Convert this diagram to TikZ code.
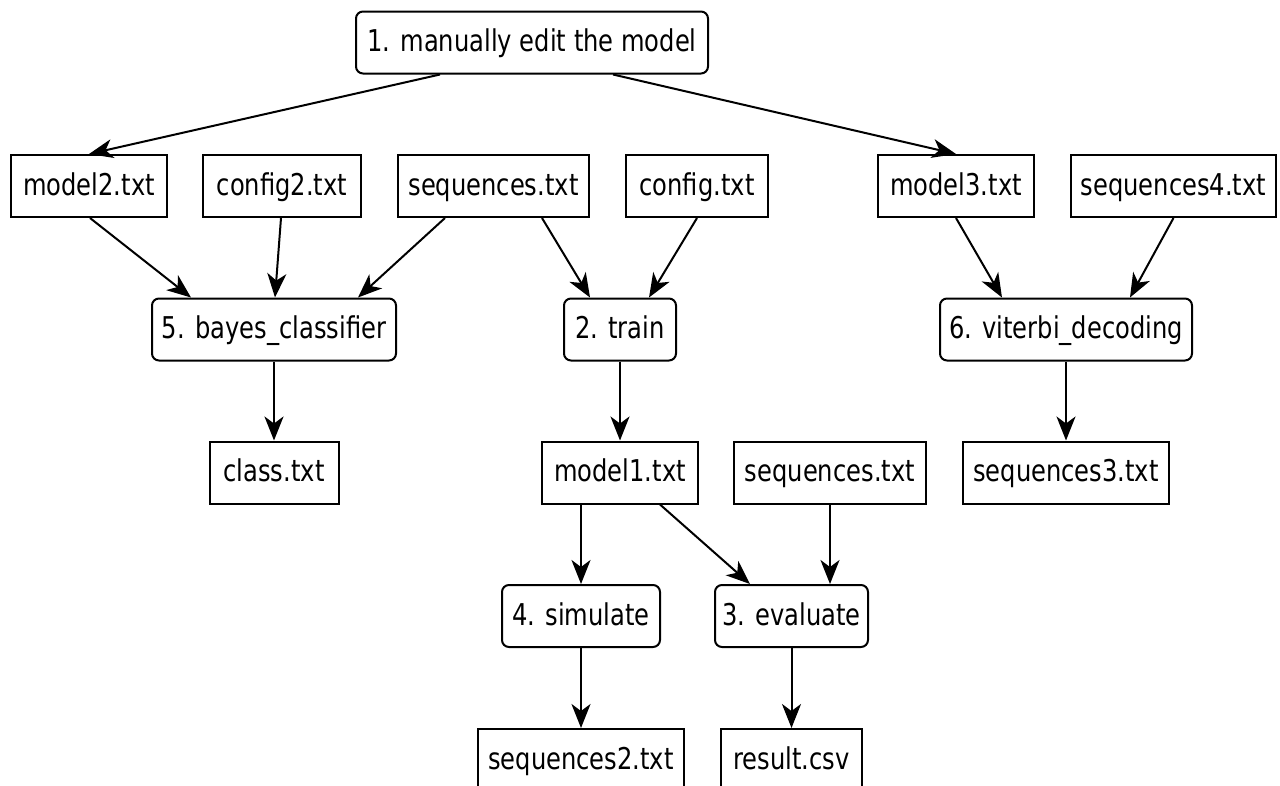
\documentclass[tikz,border=0pt]{standalone}
\usepackage{fontspec}
\setmainfont{DejaVu Sans}[FakeStretch=0.806]
\usetikzlibrary{arrows.meta}
\begin{document}
\begin{tikzpicture}[x=1pt,y=-1pt,
  every node/.style={font=\fontsize{30}{36}\selectfont, text height=23pt, text depth=5pt, inner sep=0pt, line width=2pt},
  filebox/.style={draw, minimum height=62pt},
  stepbox/.style={draw, rounded corners=7pt, minimum height=62pt},
  flow/.style={line width=2pt, -{Stealth[length=24pt,width=19pt,inset=7pt]}}]
\clip (0,0) rectangle (1280,785);
\fill[white] (0,0) rectangle (1280,785);

% processing steps and files
\node[stepbox, minimum width=352pt] (edit) at (532,42.5) {1. manually edit the model};
\node[filebox, minimum width=156pt] (model2) at (89,186) {model2.txt};
\node[filebox, minimum width=158pt] (config2) at (282,186) {config2.txt};
\node[filebox, minimum width=191pt] (seqA) at (493.5,186) {sequences.txt};
\node[filebox, minimum width=142pt] (config) at (697,186) {config.txt};
\node[filebox, minimum width=156pt] (model3) at (956,186) {model3.txt};
\node[filebox, minimum width=205pt] (seq4) at (1173.5,186) {sequences4.txt};
\node[stepbox, minimum width=244pt] (bayes) at (274,329.5) {5. bayes\_classifier};
\node[stepbox, minimum width=112pt] (train) at (620,329.5) {2. train};
\node[stepbox, minimum width=252pt] (viterbi) at (1066,329.5) {6. viterbi\_decoding};
\node[filebox, minimum width=129pt] (class) at (274,472.5) {class.txt};
\node[filebox, minimum width=156pt] (model1) at (620,472.5) {model1.txt};
\node[filebox, minimum width=192pt] (seqB) at (830,472.5) {sequences.txt};
\node[filebox, minimum width=206pt] (seq3) at (1066,472.5) {sequences3.txt};
\node[stepbox, minimum width=158pt] (simulate) at (581,616) {4. simulate};
\node[stepbox, minimum width=153pt] (evaluate) at (791.5,616) {3. evaluate};
\node[filebox, minimum width=206pt] (seq2) at (581,760) {sequences2.txt};
\node[filebox, minimum width=141pt] (result) at (791.5,760) {result.csv};

% data flow
\draw[flow] ([xshift=-92pt]edit.south) -- (model2.north);
\draw[flow] ([xshift=81pt]edit.south) -- (model3.north);
\draw[flow] ([xshift=1pt]model2.south) -- ([xshift=-83pt]bayes.north);
\draw[flow] ([xshift=-1pt]config2.south) -- ([xshift=1pt]bayes.north);
\draw[flow] ([xshift=-48.5pt]seqA.south) -- ([xshift=84pt]bayes.north);
\draw[flow] ([xshift=48.5pt]seqA.south) -- ([xshift=-30pt]train.north);
\draw[flow] (config.south) -- ([xshift=29pt]train.north);
\draw[flow] (model3.south) -- ([xshift=-64pt]viterbi.north);
\draw[flow] (seq4.south) -- ([xshift=64pt]viterbi.north);
\draw[flow] (bayes.south) -- (class.north);
\draw[flow] (train.south) -- (model1.north);
\draw[flow] (viterbi.south) -- (seq3.north);
\draw[flow] ([xshift=-39pt]model1.south) -- (simulate.north);
\draw[flow] ([xshift=40pt]model1.south) -- ([xshift=-41.5pt]evaluate.north);
\draw[flow] (seqB.south) -- ([xshift=38.5pt]evaluate.north);
\draw[flow] (simulate.south) -- (seq2.north);
\draw[flow] (evaluate.south) -- (result.north);
\end{tikzpicture}
\end{document}
